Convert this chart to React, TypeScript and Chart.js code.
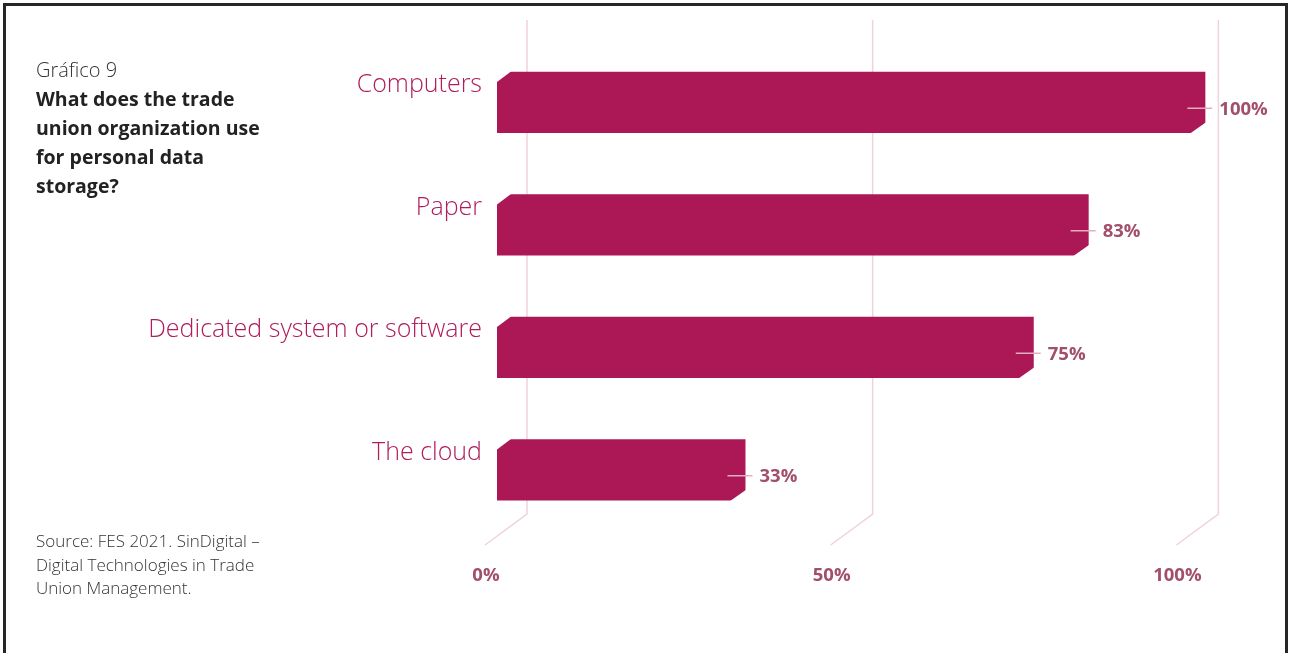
import React, { useEffect, useRef } from "react";
import { Chart, registerables } from "chart.js";

Chart.register(...registerables);

const categories = ["Computers", "Paper", "Dedicated system or software", "The cloud"];
const values = [100, 83, 75, 33];
const valueLabels = ["100%", "83%", "75%", "33%"];
const axisTicks = [0, 50, 100];
const axisTickLabels = ["0%", "50%", "100%"];

const BAR_COLOR = "#ac1855";
const CAT_COLOR = "#b01c5c";
const GRID_COLOR = "#efd3da";
const VALUE_COLOR = "#a24f6c";
const LEADER_COLOR = "#e2aebd";

const decorPlugin = {
  id: "decor",
  beforeDatasetsDraw(chart: any) {
    const ctx = chart.ctx;
    const xs = chart.scales.x;
    const area = chart.chartArea;
    const top = area.top - 21;
    const vBottom = area.bottom - 17;
    const dBottom = area.bottom + 14;
    ctx.save();
    ctx.strokeStyle = GRID_COLOR;
    ctx.lineWidth = 1.5;
    axisTicks.forEach((v, i) => {
      const bx = xs.getPixelForValue(v) + 8 + v * 0.05;
      ctx.beginPath();
      ctx.moveTo(bx, top);
      ctx.lineTo(bx, vBottom);
      ctx.lineTo(bx - 42, dBottom);
      ctx.stroke();
      ctx.fillStyle = VALUE_COLOR;
      ctx.font = "bold 18.5px 'Open Sans'";
      ctx.textAlign = "center";
      ctx.textBaseline = "middle";
      ctx.fillText(axisTickLabels[i], bx - 41, area.bottom + 45);
    });
    ctx.restore();
  },
  afterDatasetsDraw(chart: any) {
    const ctx = chart.ctx;
    const meta = chart.getDatasetMeta(0);
    ctx.save();
    meta.data.forEach((bar: any, i: number) => {
      const left = Math.min(bar.base, bar.x);
      const right = Math.max(bar.base, bar.x);
      const top = bar.y - bar.height / 2;
      const bottom = bar.y + bar.height / 2;
      ctx.fillStyle = "#ffffff";
      ctx.beginPath();
      ctx.moveTo(left - 1, top - 1);
      ctx.lineTo(left + 15, top - 1);
      ctx.lineTo(left - 1, top + 11);
      ctx.closePath();
      ctx.fill();
      ctx.beginPath();
      ctx.moveTo(right + 1, bottom + 1);
      ctx.lineTo(right + 1, bottom - 11);
      ctx.lineTo(right - 16, bottom + 1);
      ctx.closePath();
      ctx.fill();
      const ly = bar.y + 6;
      ctx.strokeStyle = LEADER_COLOR;
      ctx.lineWidth = 1.5;
      ctx.beginPath();
      ctx.moveTo(right - 18, ly);
      ctx.lineTo(right + 7, ly);
      ctx.stroke();
      ctx.fillStyle = VALUE_COLOR;
      ctx.font = "bold 18.5px 'Open Sans'";
      ctx.textAlign = "left";
      ctx.textBaseline = "middle";
      ctx.fillText(valueLabels[i], right + 14, ly + 1);
    });
    ctx.restore();
  },
};

export default function App() {
  const canvasRef = useRef<HTMLCanvasElement | null>(null);

  useEffect(() => {
    const canvas = canvasRef.current;
    if (!canvas) return;
    const chart = new Chart(canvas, {
      type: "bar",
      data: {
        labels: categories,
        datasets: [
          {
            data: values,
            base: -3.2,
            backgroundColor: BAR_COLOR,
            borderWidth: 0,
            barPercentage: 0.5,
            categoryPercentage: 1,
          } as any,
        ],
      },
      options: {
        indexAxis: "y",
        animation: false,
        responsive: false,
        devicePixelRatio: 1,
        layout: { padding: { top: 41, bottom: 122, left: 0, right: 16 } },
        plugins: { legend: { display: false }, tooltip: { enabled: false } },
        scales: {
          x: { type: "linear", min: -3.2, max: 110, display: false },
          y: {
            type: "category",
            grid: { display: false, drawTicks: false },
            border: { display: false },
            ticks: {
              color: CAT_COLOR,
              font: { family: "'Open Sans'", size: 25, weight: "300" as any },
              padding: 15,
              labelOffset: -17,
            },
            afterFit: (scale: any) => {
              scale.width = 497;
            },
          },
        },
      },
      plugins: [decorPlugin],
    });
    return () => chart.destroy();
  }, []);

  return (
    <div
      style={{
        position: "fixed",
        left: 0,
        top: 0,
        width: 1290,
        height: 653,
        overflow: "hidden",
        background: "#ffffff",
        fontFamily: "'Open Sans', sans-serif",
      }}
    >
      <div
        style={{
          position: "absolute",
          left: 3,
          top: 3,
          width: 1279,
          height: 720,
          border: "3px solid #262626",
        }}
      />
      <canvas
        ref={canvasRef}
        width={1290}
        height={653}
        style={{ position: "absolute", left: 0, top: 0, width: 1290, height: 653 }}
      />
      <div
        style={{
          position: "absolute",
          left: 36,
          top: 55,
          lineHeight: "29px",
          color: "#222222",
        }}
      >
        <div style={{ fontSize: 20, fontWeight: 300, color: "#333333" }}>Gráfico 9</div>
        <div style={{ fontSize: 19.5, fontWeight: 700 }}>
          What does the trade
          <br />
          union organization use
          <br />
          for personal data
          <br />
          storage?
        </div>
      </div>
      <div
        style={{
          position: "absolute",
          left: 36,
          top: 529,
          fontSize: 17,
          fontWeight: 300,
          lineHeight: "23.5px",
          color: "#333333",
        }}
      >
        Source: FES 2021. SinDigital –
        <br />
        Digital Technologies in Trade
        <br />
        Union Management.
      </div>
    </div>
  );
}
